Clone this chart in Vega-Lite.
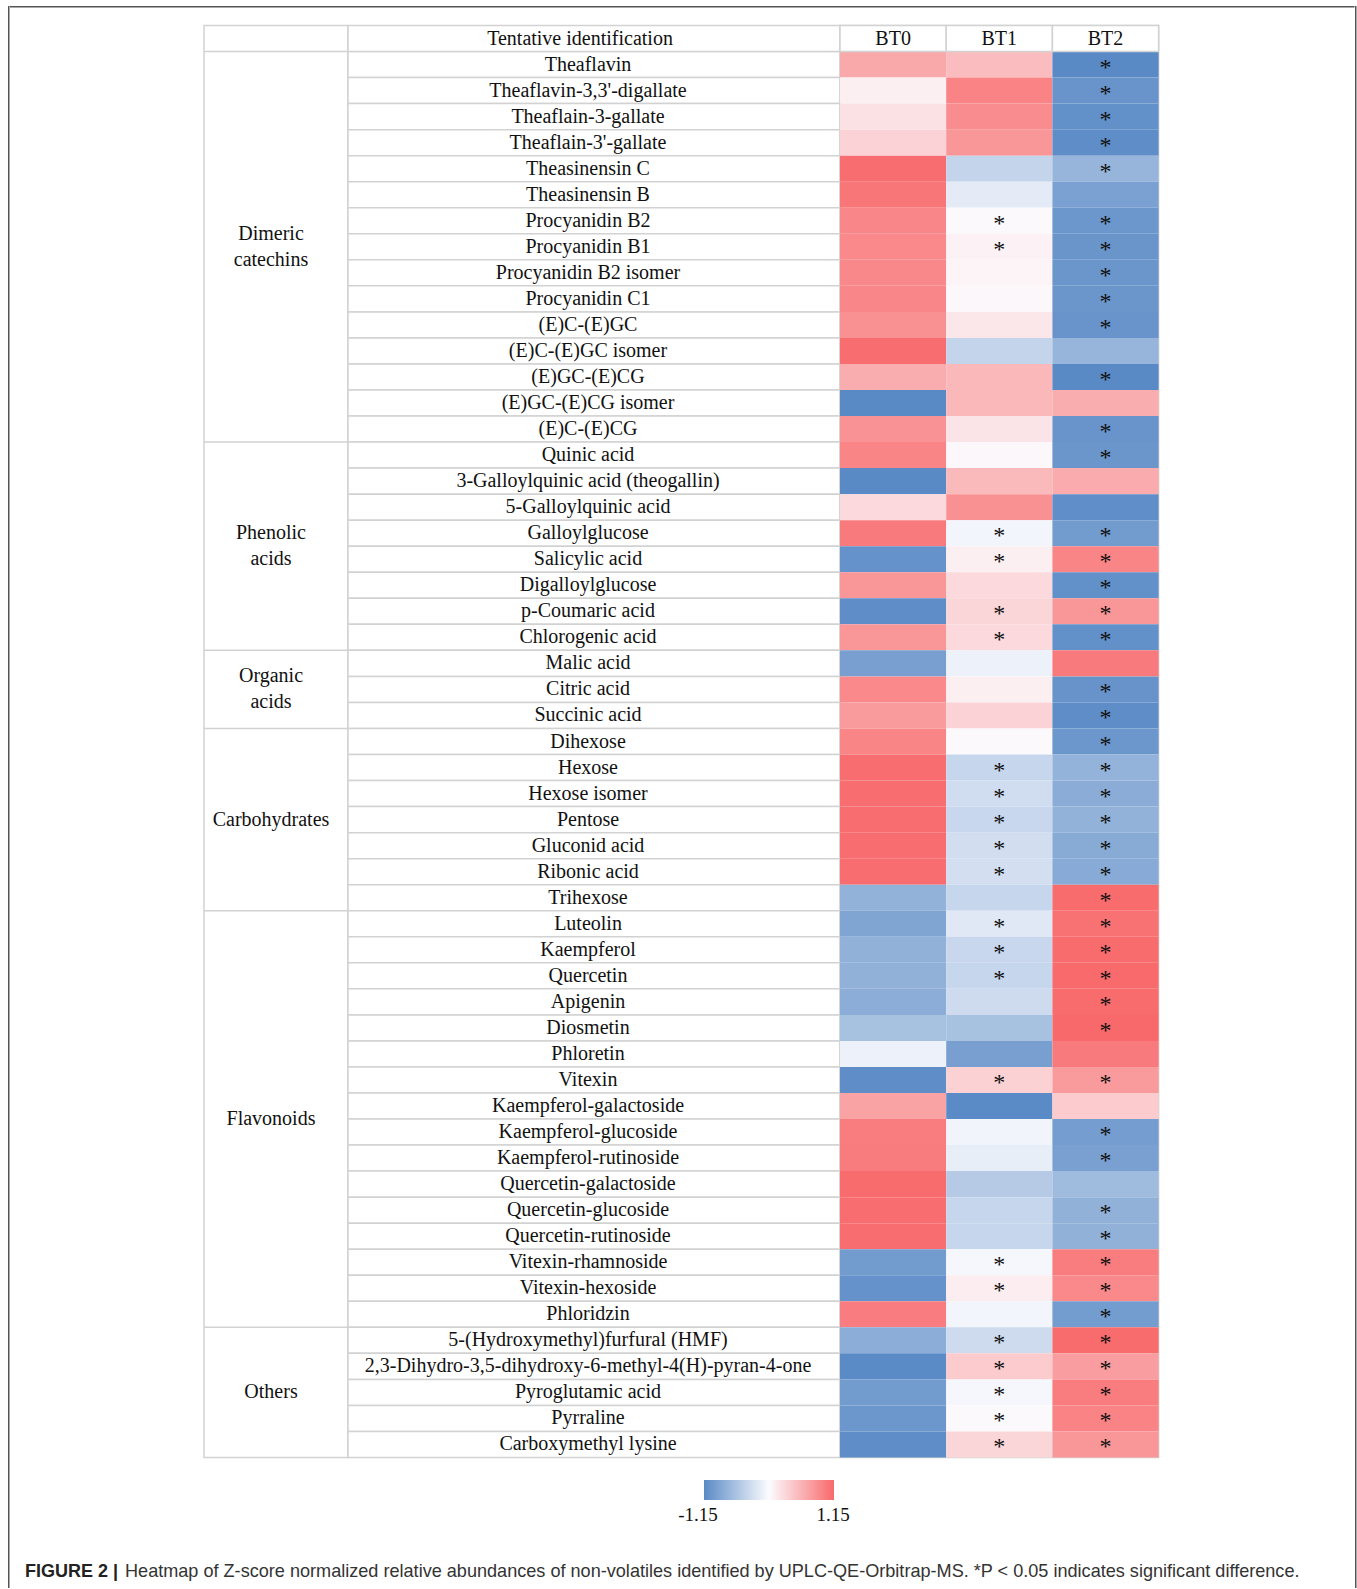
{
  "$schema": "https://vega.github.io/schema/vega-lite/v6.json",
  "background": "white",
  "padding": {"left": 8, "top": 6, "right": 0, "bottom": 0},
  "config": {
    "view": {"stroke": null},
    "text": {"font": "Liberation Serif", "fontSize": 20, "fill": "#111111"}
  },
  "datasets": {
    "rows": [
      {"group": "Dimeric catechins", "compound": "Theaflavin", "BT0": 0.65, "BT1": 0.50, "BT2": -1.15, "sig": "BT2"},
      {"group": "Dimeric catechins", "compound": "Theaflavin-3,3'-digallate", "BT0": 0.10, "BT1": 0.95, "BT2": -1.05, "sig": "BT2"},
      {"group": "Dimeric catechins", "compound": "Theaflain-3-gallate", "BT0": 0.21, "BT1": 0.88, "BT2": -1.09, "sig": "BT2"},
      {"group": "Dimeric catechins", "compound": "Theaflain-3'-gallate", "BT0": 0.32, "BT1": 0.80, "BT2": -1.12, "sig": "BT2"},
      {"group": "Dimeric catechins", "compound": "Theasinensin C", "BT0": 1.12, "BT1": -0.40, "BT2": -0.72, "sig": "BT2"},
      {"group": "Dimeric catechins", "compound": "Theasinensin B", "BT0": 1.05, "BT1": -0.17, "BT2": -0.92, "sig": ""},
      {"group": "Dimeric catechins", "compound": "Procyanidin B2", "BT0": 0.92, "BT1": 0.02, "BT2": -1.02, "sig": "BT1,BT2"},
      {"group": "Dimeric catechins", "compound": "Procyanidin B1", "BT0": 0.90, "BT1": 0.08, "BT2": -1.04, "sig": "BT1,BT2"},
      {"group": "Dimeric catechins", "compound": "Procyanidin B2 isomer", "BT0": 0.91, "BT1": 0.06, "BT2": -1.03, "sig": "BT2"},
      {"group": "Dimeric catechins", "compound": "Procyanidin C1", "BT0": 0.92, "BT1": 0.04, "BT2": -1.03, "sig": "BT2"},
      {"group": "Dimeric catechins", "compound": "(E)C-(E)GC", "BT0": 0.84, "BT1": 0.17, "BT2": -1.05, "sig": "BT2"},
      {"group": "Dimeric catechins", "compound": "(E)C-(E)GC isomer", "BT0": 1.12, "BT1": -0.40, "BT2": -0.72, "sig": ""},
      {"group": "Dimeric catechins", "compound": "(E)GC-(E)CG", "BT0": 0.62, "BT1": 0.53, "BT2": -1.15, "sig": "BT2"},
      {"group": "Dimeric catechins", "compound": "(E)GC-(E)CG isomer", "BT0": -1.15, "BT1": 0.53, "BT2": 0.62, "sig": ""},
      {"group": "Dimeric catechins", "compound": "(E)C-(E)CG", "BT0": 0.83, "BT1": 0.19, "BT2": -1.05, "sig": "BT2"},
      {"group": "Phenolic acids", "compound": "Quinic acid", "BT0": 0.93, "BT1": 0.04, "BT2": -1.03, "sig": "BT2"},
      {"group": "Phenolic acids", "compound": "3-Galloylquinic acid (theogallin)", "BT0": -1.15, "BT1": 0.52, "BT2": 0.63, "sig": ""},
      {"group": "Phenolic acids", "compound": "5-Galloylquinic acid", "BT0": 0.27, "BT1": 0.84, "BT2": -1.11, "sig": ""},
      {"group": "Phenolic acids", "compound": "Galloylglucose", "BT0": 1.02, "BT1": -0.07, "BT2": -0.98, "sig": "BT1,BT2"},
      {"group": "Phenolic acids", "compound": "Salicylic acid", "BT0": -1.07, "BT1": 0.10, "BT2": 0.93, "sig": "BT1,BT2"},
      {"group": "Phenolic acids", "compound": "Digalloylglucose", "BT0": 0.80, "BT1": 0.27, "BT2": -1.09, "sig": "BT2"},
      {"group": "Phenolic acids", "compound": "p-Coumaric acid", "BT0": -1.12, "BT1": 0.30, "BT2": 0.80, "sig": "BT1,BT2"},
      {"group": "Phenolic acids", "compound": "Chlorogenic acid", "BT0": 0.80, "BT1": 0.27, "BT2": -1.09, "sig": "BT1,BT2"},
      {"group": "Organic acids", "compound": "Malic acid", "BT0": -0.94, "BT1": -0.11, "BT2": 1.02, "sig": ""},
      {"group": "Organic acids", "compound": "Citric acid", "BT0": 0.90, "BT1": 0.10, "BT2": -1.06, "sig": "BT2"},
      {"group": "Organic acids", "compound": "Succinic acid", "BT0": 0.77, "BT1": 0.32, "BT2": -1.12, "sig": "BT2"},
      {"group": "Carbohydrates", "compound": "Dihexose", "BT0": 0.93, "BT1": 0.02, "BT2": -1.02, "sig": "BT2"},
      {"group": "Carbohydrates", "compound": "Hexose", "BT0": 1.12, "BT1": -0.38, "BT2": -0.74, "sig": "BT1,BT2"},
      {"group": "Carbohydrates", "compound": "Hexose isomer", "BT0": 1.12, "BT1": -0.31, "BT2": -0.81, "sig": "BT1,BT2"},
      {"group": "Carbohydrates", "compound": "Pentose", "BT0": 1.12, "BT1": -0.37, "BT2": -0.75, "sig": "BT1,BT2"},
      {"group": "Carbohydrates", "compound": "Gluconid acid", "BT0": 1.12, "BT1": -0.30, "BT2": -0.82, "sig": "BT1,BT2"},
      {"group": "Carbohydrates", "compound": "Ribonic acid", "BT0": 1.12, "BT1": -0.29, "BT2": -0.83, "sig": "BT1,BT2"},
      {"group": "Carbohydrates", "compound": "Trihexose", "BT0": -0.75, "BT1": -0.38, "BT2": 1.13, "sig": "BT2"},
      {"group": "Flavonoids", "compound": "Luteolin", "BT0": -0.88, "BT1": -0.20, "BT2": 1.08, "sig": "BT1,BT2"},
      {"group": "Flavonoids", "compound": "Kaempferol", "BT0": -0.76, "BT1": -0.37, "BT2": 1.13, "sig": "BT1,BT2"},
      {"group": "Flavonoids", "compound": "Quercetin", "BT0": -0.76, "BT1": -0.38, "BT2": 1.14, "sig": "BT1,BT2"},
      {"group": "Flavonoids", "compound": "Apigenin", "BT0": -0.80, "BT1": -0.33, "BT2": 1.13, "sig": "BT2"},
      {"group": "Flavonoids", "compound": "Diosmetin", "BT0": -0.60, "BT1": -0.60, "BT2": 1.15, "sig": "BT2"},
      {"group": "Flavonoids", "compound": "Phloretin", "BT0": -0.11, "BT1": -0.94, "BT2": 1.02, "sig": ""},
      {"group": "Flavonoids", "compound": "Vitexin", "BT0": -1.12, "BT1": 0.34, "BT2": 0.76, "sig": "BT1,BT2"},
      {"group": "Flavonoids", "compound": "Kaempferol-galactoside", "BT0": 0.70, "BT1": -1.14, "BT2": 0.38, "sig": ""},
      {"group": "Flavonoids", "compound": "Kaempferol-glucoside", "BT0": 1.00, "BT1": -0.08, "BT2": -0.96, "sig": "BT2"},
      {"group": "Flavonoids", "compound": "Kaempferol-rutinoside", "BT0": 1.01, "BT1": -0.14, "BT2": -0.93, "sig": "BT2"},
      {"group": "Flavonoids", "compound": "Quercetin-galactoside", "BT0": 1.13, "BT1": -0.50, "BT2": -0.66, "sig": ""},
      {"group": "Flavonoids", "compound": "Quercetin-glucoside", "BT0": 1.12, "BT1": -0.38, "BT2": -0.76, "sig": "BT2"},
      {"group": "Flavonoids", "compound": "Quercetin-rutinoside", "BT0": 1.12, "BT1": -0.38, "BT2": -0.76, "sig": "BT2"},
      {"group": "Flavonoids", "compound": "Vitexin-rhamnoside", "BT0": -0.98, "BT1": -0.05, "BT2": 1.00, "sig": "BT1,BT2"},
      {"group": "Flavonoids", "compound": "Vitexin-hexoside", "BT0": -1.07, "BT1": 0.12, "BT2": 0.90, "sig": "BT1,BT2"},
      {"group": "Flavonoids", "compound": "Phloridzin", "BT0": 0.99, "BT1": -0.07, "BT2": -0.97, "sig": "BT2"},
      {"group": "Others", "compound": "5-(Hydroxymethyl)furfural (HMF)", "BT0": -0.80, "BT1": -0.33, "BT2": 1.13, "sig": "BT1,BT2"},
      {"group": "Others", "compound": "2,3-Dihydro-3,5-dihydroxy-6-methyl-4(H)-pyran-4-one", "BT0": -1.14, "BT1": 0.38, "BT2": 0.74, "sig": "BT1,BT2"},
      {"group": "Others", "compound": "Pyroglutamic acid", "BT0": -0.98, "BT1": -0.05, "BT2": 1.00, "sig": "BT1,BT2"},
      {"group": "Others", "compound": "Pyrraline", "BT0": -1.02, "BT1": 0.02, "BT2": 0.95, "sig": "BT1,BT2"},
      {"group": "Others", "compound": "Carboxymethyl lysine", "BT0": -1.12, "BT1": 0.30, "BT2": 0.80, "sig": "BT1,BT2"}
    ],
    "groups": [
      {"group": "Dimeric catechins", "label": "Dimeric\ncatechins", "lines": 2, "first": "Theaflavin", "anchor": "Procyanidin B1", "n": 15},
      {"group": "Phenolic acids", "label": "Phenolic\nacids", "lines": 2, "first": "Quinic acid", "anchor": "Salicylic acid", "n": 8},
      {"group": "Organic acids", "label": "Organic\nacids", "lines": 2, "first": "Malic acid", "anchor": "Citric acid", "n": 3},
      {"group": "Carbohydrates", "label": "Carbohydrates", "lines": 1, "first": "Dihexose", "anchor": "Pentose", "n": 7},
      {"group": "Flavonoids", "label": "Flavonoids", "lines": 1, "first": "Luteolin", "anchor": "Kaempferol-glucoside", "n": 16},
      {"group": "Others", "label": "Others", "lines": 1, "first": "5-(Hydroxymethyl)furfural (HMF)", "anchor": "Pyroglutamic acid", "n": 5}
    ]
  },
  "spacing": 0,
  "bounds": "full",
  "hconcat": [
    {"width": 1.5, "height": 1582, "view": {"fill": "#555555", "stroke": null}, "data": {"values": [{}]}, "mark": {"type": "point", "opacity": 0, "size": 0}},
    {
      "spacing": 17.5,
      "bounds": "flush",
      "title": {"text": "FIGURE 2 |", "orient": "bottom", "anchor": "start", "dx": 15, "dy": -18.5, "offset": 0, "font": "Liberation Sans", "fontSize": 18, "fontWeight": "bold", "color": "#222222"},
      "vconcat": [
        {"width": 1344.5, "height": 1.5, "view": {"fill": "#555555", "stroke": null}, "data": {"values": [{}]}, "mark": {"type": "point", "opacity": 0, "size": 0}},
        {
          "spacing": 0,
          "bounds": "flush",
          "title": {"text": "Heatmap of Z-score normalized relative abundances of non-volatiles identified by UPLC-QE-Orbitrap-MS. *P < 0.05 indicates significant difference.", "orient": "bottom", "anchor": "start", "dx": 115, "offset": 103, "font": "Liberation Sans", "fontSize": 18.1, "fontWeight": "normal", "color": "#333333"},
          "hconcat": [
            {"width": 193.5, "height": 1432, "data": {"values": [{}]}, "mark": {"type": "point", "opacity": 0, "size": 0}},
            {
              "width": 144,
              "height": 1432,
              "view": {"stroke": "#d2d2d2", "strokeWidth": 1.5},
              "data": {"name": "groups"},
              "layer": [
                {
                  "mark": {"type": "rule", "stroke": "#d2d2d2", "strokeWidth": 1.5},
                  "encoding": {"y": {"field": "first", "type": "nominal", "bandPosition": 0, "axis": null, "scale": {"type": "band", "paddingInner": 0, "paddingOuter": 0, "domain": ["__header","Theaflavin","Theaflavin-3,3'-digallate","Theaflain-3-gallate","Theaflain-3'-gallate","Theasinensin C","Theasinensin B","Procyanidin B2","Procyanidin B1","Procyanidin B2 isomer","Procyanidin C1","(E)C-(E)GC","(E)C-(E)GC isomer","(E)GC-(E)CG","(E)GC-(E)CG isomer","(E)C-(E)CG","Quinic acid","3-Galloylquinic acid (theogallin)","5-Galloylquinic acid","Galloylglucose","Salicylic acid","Digalloylglucose","p-Coumaric acid","Chlorogenic acid","Malic acid","Citric acid","Succinic acid","Dihexose","Hexose","Hexose isomer","Pentose","Gluconid acid","Ribonic acid","Trihexose","Luteolin","Kaempferol","Quercetin","Apigenin","Diosmetin","Phloretin","Vitexin","Kaempferol-galactoside","Kaempferol-glucoside","Kaempferol-rutinoside","Quercetin-galactoside","Quercetin-glucoside","Quercetin-rutinoside","Vitexin-rhamnoside","Vitexin-hexoside","Phloridzin","5-(Hydroxymethyl)furfural (HMF)","2,3-Dihydro-3,5-dihydroxy-6-methyl-4(H)-pyran-4-one","Pyroglutamic acid","Pyrraline","Carboxymethyl lysine"]}}}
                },
                {
                  "transform": [{"filter": "datum.n % 2 == 1 && datum.lines == 1"}],
                  "mark": {"type": "text", "lineBreak": "\n", "lineHeight": 26, "dx": -5},
                  "encoding": {"y": {"field": "anchor", "type": "nominal", "axis": null}, "text": {"field": "label"}}
                },
                {
                  "transform": [{"filter": "datum.n % 2 == 1 && datum.lines == 2"}],
                  "mark": {"type": "text", "lineBreak": "\n", "lineHeight": 26, "dx": -5, "dy": -13},
                  "encoding": {"y": {"field": "anchor", "type": "nominal", "axis": null}, "text": {"field": "label"}}
                },
                {
                  "transform": [{"filter": "datum.n % 2 == 0 && datum.lines == 1"}],
                  "mark": {"type": "text", "lineBreak": "\n", "lineHeight": 26, "dx": -5},
                  "encoding": {"y": {"field": "anchor", "type": "nominal", "bandPosition": 0, "axis": null}, "text": {"field": "label"}}
                },
                {
                  "transform": [{"filter": "datum.n % 2 == 0 && datum.lines == 2"}],
                  "mark": {"type": "text", "lineBreak": "\n", "lineHeight": 26, "dx": -5, "dy": -13},
                  "encoding": {"y": {"field": "anchor", "type": "nominal", "bandPosition": 0, "axis": null}, "text": {"field": "label"}}
                }
              ]
            },
            {
              "width": 492,
              "height": 1432,
              "encoding": {"y": {"field": "compound", "type": "nominal", "axis": null, "scale": {"type": "band", "paddingInner": 0, "paddingOuter": 0, "domain": ["__header","Theaflavin","Theaflavin-3,3'-digallate","Theaflain-3-gallate","Theaflain-3'-gallate","Theasinensin C","Theasinensin B","Procyanidin B2","Procyanidin B1","Procyanidin B2 isomer","Procyanidin C1","(E)C-(E)GC","(E)C-(E)GC isomer","(E)GC-(E)CG","(E)GC-(E)CG isomer","(E)C-(E)CG","Quinic acid","3-Galloylquinic acid (theogallin)","5-Galloylquinic acid","Galloylglucose","Salicylic acid","Digalloylglucose","p-Coumaric acid","Chlorogenic acid","Malic acid","Citric acid","Succinic acid","Dihexose","Hexose","Hexose isomer","Pentose","Gluconid acid","Ribonic acid","Trihexose","Luteolin","Kaempferol","Quercetin","Apigenin","Diosmetin","Phloretin","Vitexin","Kaempferol-galactoside","Kaempferol-glucoside","Kaempferol-rutinoside","Quercetin-galactoside","Quercetin-glucoside","Quercetin-rutinoside","Vitexin-rhamnoside","Vitexin-hexoside","Phloridzin","5-(Hydroxymethyl)furfural (HMF)","2,3-Dihydro-3,5-dihydroxy-6-methyl-4(H)-pyran-4-one","Pyroglutamic acid","Pyrraline","Carboxymethyl lysine"]}}},
              "layer": [
                {"data": {"name": "rows"}, "mark": {"type": "rect", "fill": "white", "stroke": "#d2d2d2", "strokeWidth": 1.5}},
                {"data": {"values": [{"compound": "__header", "label": "Tentative identification"}]}, "mark": {"type": "rect", "fill": "white", "stroke": "#d2d2d2", "strokeWidth": 1.5}},
                {"data": {"name": "rows"}, "mark": {"type": "text", "dx": -6}, "encoding": {"text": {"field": "compound"}}},
                {"data": {"values": [{"compound": "__header", "label": "Tentative identification"}]}, "mark": {"type": "text", "dx": -14}, "encoding": {"text": {"field": "label"}}}
              ]
            },
            {
              "width": 318.6,
              "height": 1432,
              "view": {"stroke": "#d2d2d2", "strokeWidth": 1.5},
              "encoding": {
                "x": {"field": "sample", "type": "nominal", "axis": null, "scale": {"type": "band", "domain": ["BT0", "BT1", "BT2"], "paddingInner": 0, "paddingOuter": 0}},
                "y": {"field": "compound", "type": "nominal", "axis": null, "scale": {"type": "band", "paddingInner": 0, "paddingOuter": 0, "domain": ["__header","Theaflavin","Theaflavin-3,3'-digallate","Theaflain-3-gallate","Theaflain-3'-gallate","Theasinensin C","Theasinensin B","Procyanidin B2","Procyanidin B1","Procyanidin B2 isomer","Procyanidin C1","(E)C-(E)GC","(E)C-(E)GC isomer","(E)GC-(E)CG","(E)GC-(E)CG isomer","(E)C-(E)CG","Quinic acid","3-Galloylquinic acid (theogallin)","5-Galloylquinic acid","Galloylglucose","Salicylic acid","Digalloylglucose","p-Coumaric acid","Chlorogenic acid","Malic acid","Citric acid","Succinic acid","Dihexose","Hexose","Hexose isomer","Pentose","Gluconid acid","Ribonic acid","Trihexose","Luteolin","Kaempferol","Quercetin","Apigenin","Diosmetin","Phloretin","Vitexin","Kaempferol-galactoside","Kaempferol-glucoside","Kaempferol-rutinoside","Quercetin-galactoside","Quercetin-glucoside","Quercetin-rutinoside","Vitexin-rhamnoside","Vitexin-hexoside","Phloridzin","5-(Hydroxymethyl)furfural (HMF)","2,3-Dihydro-3,5-dihydroxy-6-methyl-4(H)-pyran-4-one","Pyroglutamic acid","Pyrraline","Carboxymethyl lysine"]}}
              },
              "layer": [
                {
                  "data": {"name": "rows"},
                  "transform": [{"fold": ["BT0", "BT1", "BT2"], "as": ["sample", "z"]}],
                  "mark": {"type": "rect", "strokeWidth": 0},
                  "encoding": {
                    "color": {
                      "field": "z",
                      "type": "quantitative",
                      "scale": {"type": "linear", "domain": [-1.15, 0, 1.15], "range": ["#5A8AC6", "#FCFCFF", "#F8696B"], "interpolate": "rgb", "clamp": true},
                      "legend": {"orient": "none", "legendX": 696, "legendY": 1474, "direction": "horizontal", "title": null, "gradientLength": 130, "gradientThickness": 20, "values": [-1.15, 1.15], "labelExpr": "datum.value < 0 ? '-' + format(-datum.value, '.2f') : format(datum.value, '.2f')", "labelFont": "Liberation Serif", "labelFontSize": 19, "labelColor": "#111111", "labelAlign": "center", "labelOffset": 6, "labelOverlap": false, "gradientStrokeWidth": 0, "padding": 0, "encode": {"labels": {"update": {"align": {"value": "center"}, "dx": {"signal": "datum.value < 0 ? -6 : -1"}}}}}
                    }
                  }
                },
                {
                  "data": {"name": "rows"},
                  "transform": [{"fold": ["BT0", "BT1", "BT2"], "as": ["sample", "z"]}, {"filter": "indexof(datum.sig, datum.sample) >= 0"}],
                  "mark": {"type": "text", "text": "*", "fontSize": 24, "dy": 3}
                },
                {
                  "data": {"values": [{"compound": "__header", "sample": "BT0"}, {"compound": "__header", "sample": "BT1"}, {"compound": "__header", "sample": "BT2"}]},
                  "mark": {"type": "rect", "fill": "white", "stroke": "#d2d2d2", "strokeWidth": 1.5}
                },
                {
                  "data": {"values": [{"compound": "__header", "sample": "BT0"}, {"compound": "__header", "sample": "BT1"}, {"compound": "__header", "sample": "BT2"}]},
                  "mark": {"type": "text"},
                  "encoding": {"text": {"field": "sample"}}
                }
              ]
            }
          ]
        }
      ]
    },
    {"width": 1.5, "height": 1582, "view": {"fill": "#555555", "stroke": null}, "data": {"values": [{}]}, "mark": {"type": "point", "opacity": 0, "size": 0}}
  ]
}
